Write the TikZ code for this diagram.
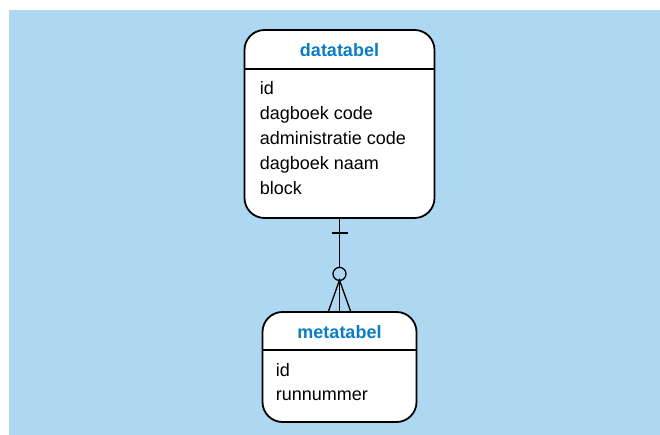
\documentclass[tikz,border=0pt]{standalone}
\usepackage{fontspec}
\setmainfont{Liberation Sans}
\usepackage{tikz}
\definecolor{mybgblue}{RGB}{174,215,241}
\definecolor{mytitleblue}{RGB}{10,125,196}
\newcommand{\headdepth}{40pt}
\newcommand{\titledepth}{27.5pt}
\newcommand{\fielddepth}{65.5pt}
\tikzset{
    table/.style={draw, fill=white, line width=1.8pt, rounded corners=20pt, inner sep=0pt},
    headline/.style={line width=1.8pt},
    title/.style={anchor=base, inner sep=0pt, text=mytitleblue, font=\fontsize{18}{20}\selectfont\bfseries},
    field/.style={anchor=base west, inner sep=0pt, font=\fontsize{18}{20}\selectfont},
    link/.style={line width=1.3pt},
    ring/.style={draw, circle, fill=mybgblue, line width=1.3pt, minimum size=13pt, inner sep=0pt}
}
\begin{document}
\begin{tikzpicture}[x=1pt, y=1pt]
            \useasboundingbox (0,0) rectangle (660,435);
            \fill[mybgblue] (9,0) rectangle (660,425);

            % datatabel
            \node[table, minimum width=190pt, minimum height=188pt] (data) at (339.5,311) {};
            \draw[headline] ([yshift=-\headdepth]data.north west) -- ([yshift=-\headdepth]data.north east);
            \node[title] (data-title) at ([yshift=-\titledepth]data.north) {datatabel};
            \foreach \name [count=\i] in {id, dagboek code, administratie code, dagboek naam, block}
                \node[field] (data-f\i) at ([xshift=16pt, yshift=-\fielddepth-(\i-1)*25pt]data.north west) {\name};

            % metatabel
            \node[table, minimum width=154pt, minimum height=110pt] (meta) at (339.5,68) {};
            \draw[headline] ([yshift=-\headdepth+1pt]meta.north west) -- ([yshift=-\headdepth+1pt]meta.north east);
            \node[title] (meta-title) at ([yshift=-\titledepth]meta.north) {metatabel};
            \foreach \name [count=\i] in {id, runnummer}
                \node[field] (meta-f\i) at ([xshift=14pt, yshift=-\fielddepth-(\i-1)*24pt]meta.north west) {\name};

            % one to zero-or-many
            \draw[link] (data.south) -- (meta.north);
            \draw[link] ([xshift=-8pt, yshift=-14pt]data.south) -- ([xshift=8pt, yshift=-14pt]data.south);
            \node[ring] (zero) at ([yshift=-55pt]data.south) {};
            \coordinate (crow) at ([yshift=31pt]meta.north);
            \draw[link] ([xshift=-11pt]meta.north) -- (crow) -- ([xshift=11pt]meta.north);
\end{tikzpicture}
\end{document}
